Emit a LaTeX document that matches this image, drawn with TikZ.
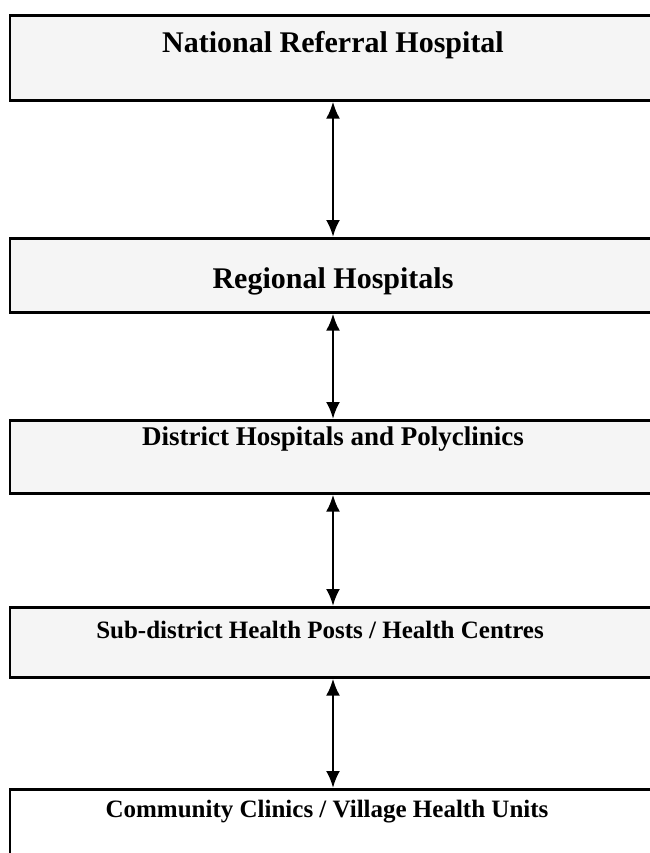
\documentclass[tikz,border=0pt]{standalone}
\usepackage{fontspec}
\setmainfont{Liberation Serif}
\usetikzlibrary{arrows.meta}
\begin{document}
\begin{tikzpicture}[x=1pt,y=-1pt,
  tier/.style={draw=black, line width=2.6pt, fill=black!4, minimum width=646pt,
    inner sep=0pt, anchor=north},
  tiertext/.style={font=\bfseries\fontsize{#1}{#1}\selectfont, inner sep=0pt, anchor=center},
  updown/.style={line width=2.6pt,
    {Latex[length=17pt,width=14pt]}-{Latex[length=17pt,width=14pt]}}]
\useasboundingbox (0,0) rectangle (649,853);

% tier boxes (centre line x = 333)
\node[tier, minimum height=85pt]  (b1) at (333,14)  {};
\node[tier, minimum height=74pt]  (b2) at (333,237) {};
\node[tier, minimum height=73pt]  (b3) at (333,419) {};
\node[tier, minimum height=70pt]  (b4) at (333,606) {};
\node[tier, minimum height=100pt, fill=white] (b5) at (333,788) {};

% tier names
\node[tiertext=30] (t1) at (333,45)  {National Referral Hospital};
\node[tiertext=30] (t2) at (333,281) {Regional Hospitals};
\node[tiertext=27] (t3) at (333,439) {District Hospitals and Polyclinics};
\node[tiertext=25] (t4) at (320,630) {Sub-district Health Posts / Health Centres};
\node[tiertext=25] (t5) at (327,812) {Community Clinics / Village Health Units};

% two-way referral links
\draw[updown] (b1.south) -- (b2.north);
\draw[updown] (b2.south) -- (b3.north);
\draw[updown] (b3.south) -- (b4.north);
\draw[updown] (b4.south) -- (b5.north);
\end{tikzpicture}
\end{document}
